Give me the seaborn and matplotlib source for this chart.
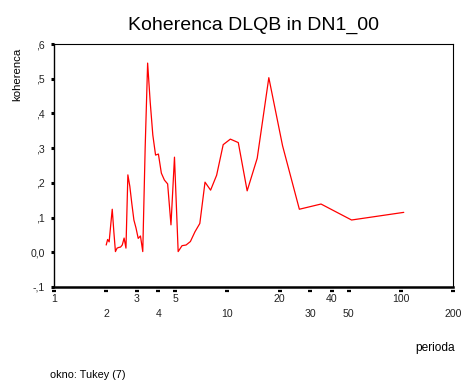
import matplotlib
matplotlib.use("Agg")
import matplotlib.pyplot as plt
from matplotlib.ticker import FixedLocator, FixedFormatter
from matplotlib.transforms import blended_transform_factory
import seaborn as sns

# Period (in observations) of each spectral frequency
periods = [104.0, 52.0, 34.667, 26.0, 20.8, 17.333, 14.857, 13.0, 11.556, 10.4,
           9.455, 8.667, 8.0, 7.429, 6.933, 6.5, 6.118, 5.778, 5.474, 5.2,
           4.952, 4.727, 4.522, 4.333, 4.16, 4.0, 3.852, 3.714, 3.586, 3.467,
           3.355, 3.25, 3.152, 3.059, 2.971, 2.889, 2.811, 2.737, 2.667, 2.6,
           2.537, 2.476, 2.419, 2.364, 2.311, 2.261, 2.213, 2.167, 2.122, 2.08,
           2.039, 2.0]

# Squared coherency DLQB vs DN1_00
coherence = [0.115, 0.093, 0.139, 0.124, 0.307, 0.503, 0.271, 0.177, 0.316, 0.326,
             0.310, 0.222, 0.179, 0.202, 0.083, 0.059, 0.031, 0.021, 0.019, 0.002,
             0.274, 0.079, 0.197, 0.208, 0.228, 0.283, 0.280, 0.338, 0.434, 0.545,
             0.300, 0.002, 0.047, 0.040, 0.070, 0.093, 0.140, 0.190, 0.223, 0.012,
             0.041, 0.021, 0.015, 0.014, 0.012, 0.002, 0.060, 0.124, 0.077, 0.030,
             0.037, 0.021]

y_ticks = [-0.1, 0.0, 0.1, 0.2, 0.3, 0.4, 0.5, 0.6]
y_tick_labels = ["-,1", "0,0", ",1", ",2", ",3", ",4", ",5", ",6"]
x_ticks_upper = [1, 3, 5, 20, 40, 100]
x_ticks_lower = [2, 4, 10, 30, 50, 200]

sns.set_theme(style="white")
plt.rcParams["font.family"] = ["Liberation Sans", "DejaVu Sans"]

fig = plt.figure(figsize=(4.65, 3.83), dpi=100)
ax = fig.add_axes([54 / 465, 1 - 287 / 383, 399 / 465, 243 / 383])

sns.lineplot(x=periods, y=coherence, color="#ff0000", linewidth=0.9,
             sort=False, ax=ax)

ax.set_xscale("log")
ax.set_xlim(1, 200)
ax.set_ylim(-0.1, 0.6)

# Period ticks, labels staggered on two rows
ax.xaxis.set_major_locator(FixedLocator(x_ticks_upper))
ax.xaxis.set_major_formatter(FixedFormatter([str(v) for v in x_ticks_upper]))
ax.xaxis.set_minor_locator(FixedLocator(x_ticks_lower))
ax.xaxis.set_minor_formatter(FixedFormatter([str(v) for v in x_ticks_lower]))
ax.tick_params(axis="x", which="major", length=0, pad=5.2, labelsize=7.6,
               labelcolor="#222222", bottom=True)
ax.tick_params(axis="x", which="minor", length=0, pad=16.0, labelsize=7.6,
               labelcolor="#222222", bottom=True)

# Small detached tick dashes just below the period axis
tick_tr = blended_transform_factory(ax.transData, ax.transAxes)
ax.plot(x_ticks_upper + x_ticks_lower,
        [-0.017] * (len(x_ticks_upper) + len(x_ticks_lower)),
        linestyle="none", marker="s", markersize=2.0, markeredgewidth=0,
        color="black", transform=tick_tr, clip_on=False)
ax.plot(x_ticks_upper + x_ticks_lower,
        [-0.017] * (len(x_ticks_upper) + len(x_ticks_lower)),
        linestyle="none", marker="_", markersize=3.2, markeredgewidth=1.6,
        color="black", transform=tick_tr, clip_on=False)

ax.yaxis.set_major_locator(FixedLocator(y_ticks))
ax.yaxis.set_major_formatter(FixedFormatter(y_tick_labels))
ax.tick_params(axis="y", which="major", direction="out", length=2.2, width=2.2,
               pad=4.5, labelsize=7.6, color="black", labelcolor="#222222",
               left=True)

for side, lw in (("left", 1.0), ("bottom", 1.8), ("top", 0.8), ("right", 0.8)):
    ax.spines[side].set_visible(True)
    ax.spines[side].set_color("black")
    ax.spines[side].set_linewidth(lw)

ax.set_title("Koherenca DLQB in DN1_00", fontsize=14, pad=10, color="black")

ax.set_ylabel("koherenca", fontsize=8.2, color="black")
ax.yaxis.label.set(ha="center", va="center")
ax.yaxis.set_label_coords(-37 / 399, (287 - 74) / 243)

ax.set_xlabel("perioda", fontsize=8.6, color="black")
ax.xaxis.label.set(ha="center", va="center")
ax.xaxis.set_label_coords((435 - 54) / 399, (287 - 348) / 243)

fig.text(50 / 465, 1 - 375 / 383, "okno: Tukey (7)", fontsize=7.8, va="center",
         ha="left", color="black")

fig.savefig("out.png", dpi=100)
